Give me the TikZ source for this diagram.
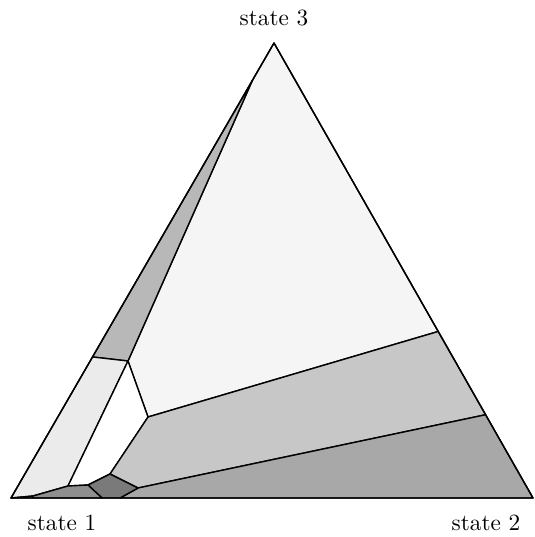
\documentclass[tikz,border=0pt]{standalone}
\usepackage{xcolor}
\usepackage{tikz}
\usetikzlibrary{calc}

\begin{document}
\begin{tikzpicture}[x=0.43pt, y=-0.43pt,
        region/.style={draw, line width=0.6pt, line join=round},
        label/.style={inner sep=0pt}]

        \useasboundingbox (0,0) rectangle (534,537);

        % Corners
        \coordinate (s1) at (11,498);
        \coordinate (s2) at (533,498);
        \coordinate (s3) at (274,43);

        % Inner vertices
        \coordinate (p1) at ($(s1)!0.31!(s3)$);
        \coordinate (p3) at ($(s1)!0.918!(s3)$);
        \coordinate (p5) at ($(s3)!0.634!(s2)$);
        \coordinate (p6) at ($(s3)!0.817!(s2)$);
        \coordinate (p2) at (128,361);
        \coordinate (p4) at (148,417);
        \coordinate (p7) at (110,474);
        \coordinate (p8) at (138,488);
        \coordinate (p9) at (88,485);
        \coordinate (p10) at (68,486);
        \coordinate (p11) at (33,496);
        \coordinate (p12) at (102,498);
        \coordinate (p13) at (120,498);
        \coordinate (p14) at (33,498);

        % Regions
        \path [region, fill=black!4] (p3) -- (s3) -- (p5) -- (p4) -- (p2) -- cycle;
        \path [region, fill=black!28] (p1) -- (p3) -- (p2) -- cycle;
        \path [region, fill=black!8] (s1) -- (p1) -- (p2) -- (p10) -- (p11) -- cycle;
        \path [region, fill=black!5] (s1) -- (p11) -- (p14) -- cycle;
        \path [region, fill=white] (p2) -- (p4) -- (p7) -- (p9) -- (p10) -- cycle;
        \path [region, fill=black!22] (p4) -- (p5) -- (p6) -- (p8) -- (p7) -- cycle;
        \path [region, fill=black!34] (p8) -- (p6) -- (s2) -- (p13) -- cycle;
        \path [region, fill=black!52] (p9) -- (p7) -- (p8) -- (p13) -- (p12) -- cycle;
        \path [region, fill=black!44] (p11) -- (p10) -- (p9) -- (p12) -- (p14) -- cycle;

        % Outline
        \draw [line width=0.6pt, line join=round] (s1) -- (s2) -- (s3) -- cycle;

        % Labels
        \node [label] (l3) at (274,18) {state 3};
        \node [label] (l1) at (62,523) {state 1};
        \node [label] (l2) at (486,523) {state 2};

    \end{tikzpicture}
\end{document}
